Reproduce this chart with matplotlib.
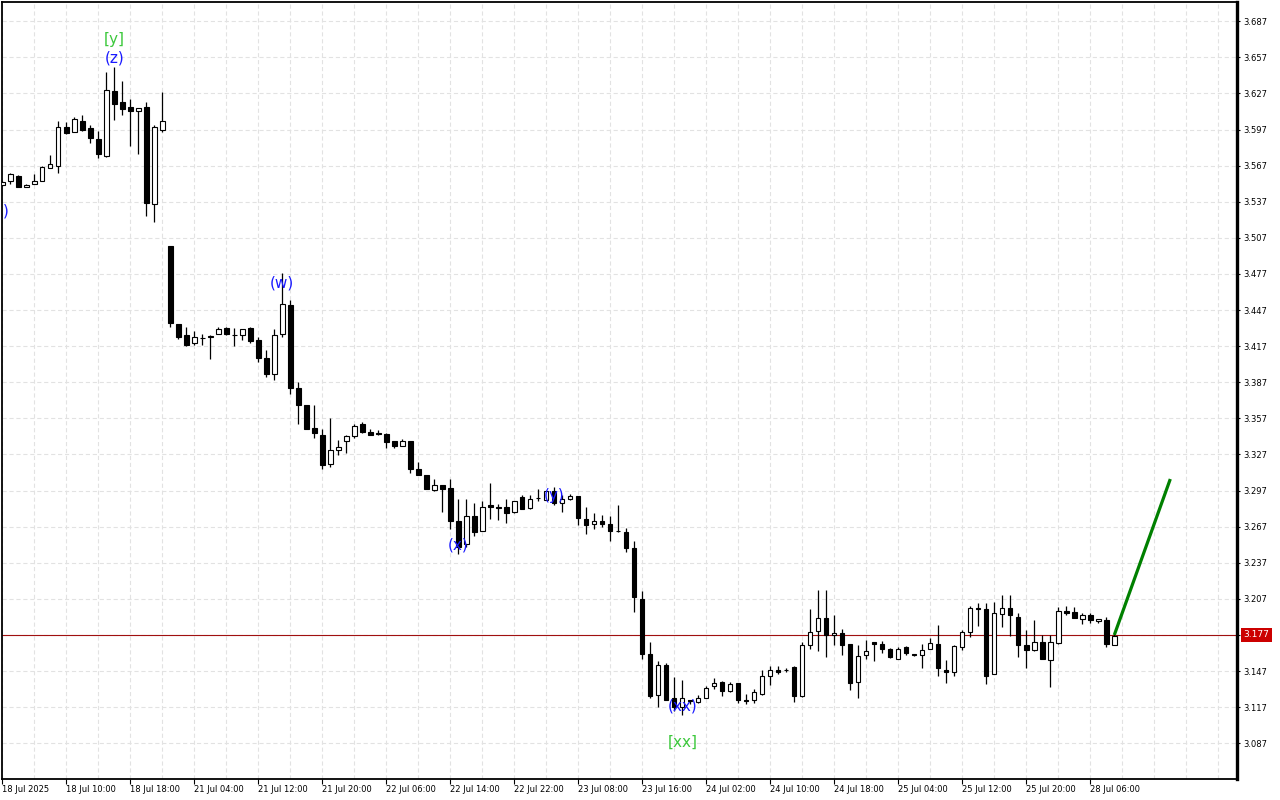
import matplotlib
matplotlib.use("Agg")
import matplotlib.pyplot as plt
import numpy as np

plt.rcParams['lines.scale_dashes'] = False
plt.rcParams['font.family'] = ['DejaVu Sans']

# ---- data (hourly OHLC) ----
opens = [3.551, 3.554, 3.558, 3.549, 3.552, 3.554, 3.565, 3.567, 3.599, 3.595,
         3.604, 3.598, 3.589, 3.575, 3.629, 3.620, 3.616, 3.612, 3.616, 3.535,
         3.597, 3.500, 3.435, 3.426, 3.420, 3.4235, 3.425, 3.427, 3.432, 3.4265,
         3.426, 3.432, 3.422, 3.407, 3.3935, 3.427, 3.451, 3.382, 3.3685, 3.3487,
         3.3435, 3.319, 3.331, 3.338, 3.342, 3.352, 3.346, 3.3447, 3.344, 3.338,
         3.334, 3.338, 3.315, 3.310, 3.2975, 3.302, 3.2995, 3.272, 3.2525, 3.2755,
         3.2635, 3.2848, 3.2837, 3.283, 3.279, 3.292, 3.2826, 3.2905, 3.2895, 3.2967,
         3.2864, 3.2903, 3.2928, 3.2737, 3.269, 3.272, 3.2695, 3.2636, 3.2628, 3.2492,
         3.2073, 3.1614, 3.127, 3.1517, 3.1248, 3.1175, 3.1231, 3.1212, 3.1248, 3.1348,
         3.1376, 3.1303, 3.1367, 3.1234, 3.1231, 3.1281, 3.1428, 3.1481, 3.1479, 3.1503,
         3.1264, 3.1689, 3.1806, 3.1914, 3.1767, 3.1789, 3.1698, 3.1381, 3.1606, 3.1712,
         3.1698, 3.1651, 3.1573, 3.1667, 3.1614, 3.1606, 3.1651, 3.1692, 3.1481, 3.1459,
         3.1673, 3.1795, 3.1992, 3.1987, 3.1445, 3.1945, 3.1995, 3.1923, 3.1687, 3.1645,
         3.1714, 3.1562, 3.1706, 3.1973, 3.1964, 3.1903, 3.1939, 3.1887, 3.1895, 3.1687]
highs = [3.554, 3.561, 3.559, 3.552, 3.560, 3.567, 3.576, 3.604, 3.603, 3.607,
         3.609, 3.601, 3.596, 3.645, 3.649, 3.637, 3.622, 3.6145, 3.620, 3.601,
         3.628, 3.500, 3.435, 3.433, 3.430, 3.427, 3.4265, 3.433, 3.4325, 3.432,
         3.431, 3.433, 3.425, 3.414, 3.431, 3.478, 3.455, 3.387, 3.3685, 3.368,
         3.348, 3.357, 3.339, 3.343, 3.352, 3.354, 3.348, 3.347, 3.345, 3.338,
         3.3395, 3.338, 3.321, 3.310, 3.307, 3.302, 3.307, 3.290, 3.290, 3.287,
         3.2885, 3.303, 3.2857, 3.290, 3.288, 3.293, 3.293, 3.2987, 3.297, 3.300,
         3.293, 3.2945, 3.2928, 3.2837, 3.278, 3.2767, 3.2756, 3.2848, 3.2659, 3.2551,
         3.2134, 3.1714, 3.1556, 3.154, 3.142, 3.140, 3.1231, 3.1273, 3.1348, 3.1414,
         3.1384, 3.1378, 3.1367, 3.1276, 3.132, 3.1476, 3.1509, 3.1509, 3.1498, 3.1509,
         3.1712, 3.1989, 3.2148, 3.2142, 3.1939, 3.1823, 3.1698, 3.169, 3.1726, 3.1712,
         3.1717, 3.1659, 3.1667, 3.1678, 3.1614, 3.1692, 3.1748, 3.1851, 3.1564, 3.169,
         3.1814, 3.2014, 3.2037, 3.2037, 3.2042, 3.2106, 3.2106, 3.1953, 3.1814, 3.1898,
         3.177, 3.1773, 3.2006, 3.2014, 3.2006, 3.1951, 3.1951, 3.1903, 3.1917, 3.1775]
lows = [3.550, 3.552, 3.549, 3.549, 3.552, 3.554, 3.565, 3.561, 3.593, 3.595,
        3.596, 3.586, 3.573, 3.574, 3.605, 3.609, 3.583, 3.577, 3.525, 3.520,
        3.595, 3.433, 3.423, 3.417, 3.418, 3.418, 3.406, 3.427, 3.4265, 3.417,
        3.422, 3.420, 3.4035, 3.391, 3.3885, 3.425, 3.3775, 3.3525, 3.3485, 3.341,
        3.315, 3.3165, 3.3265, 3.3285, 3.341, 3.345, 3.343, 3.343, 3.3325, 3.3325,
        3.334, 3.3115, 3.310, 3.2985, 3.2965, 3.279, 3.265, 3.2445, 3.250, 3.259,
        3.2635, 3.2735, 3.2728, 3.270, 3.2785, 3.2817, 3.2817, 3.2884, 3.289, 3.2853,
        3.2795, 3.2895, 3.2684, 3.261, 3.2653, 3.2667, 3.255, 3.2623, 3.246, 3.1965,
        3.157, 3.125, 3.117, 3.1226, 3.1142, 3.1106, 3.1198, 3.1206, 3.1248, 3.132,
        3.1262, 3.1295, 3.1203, 3.1195, 3.1206, 3.1273, 3.1351, 3.1448, 3.1462, 3.1211,
        3.1253, 3.1653, 3.1639, 3.1587, 3.1689, 3.1606, 3.1312, 3.1248, 3.157, 3.1553,
        3.162, 3.1578, 3.1573, 3.1606, 3.1598, 3.1495, 3.1651, 3.1431, 3.137, 3.1428,
        3.1645, 3.175, 3.1842, 3.1362, 3.1445, 3.1834, 3.1762, 3.1584, 3.1495, 3.1634,
        3.157, 3.1342, 3.1698, 3.1937, 3.1912, 3.1862, 3.187, 3.1867, 3.1667, 3.1687]
closes = [3.553, 3.560, 3.549, 3.551, 3.554, 3.566, 3.568, 3.5995, 3.594, 3.6056,
          3.597, 3.590, 3.577, 3.6295, 3.618, 3.614, 3.612, 3.6145, 3.536, 3.599,
          3.604, 3.436, 3.425, 3.418, 3.425, 3.4237, 3.4255, 3.431, 3.427, 3.426,
          3.431, 3.421, 3.407, 3.3935, 3.426, 3.452, 3.382, 3.368, 3.3485, 3.3445,
          3.3185, 3.331, 3.3335, 3.342, 3.351, 3.346, 3.3435, 3.3443, 3.337, 3.334,
          3.338, 3.315, 3.310, 3.2985, 3.302, 3.2985, 3.2715, 3.250, 3.2755, 3.2625,
          3.2835, 3.2835, 3.2827, 3.2785, 3.288, 3.2817, 3.2903, 3.2907, 3.297, 3.2867,
          3.2903, 3.2923, 3.2745, 3.2687, 3.272, 3.2692, 3.2634, 3.2632, 3.2492, 3.2087,
          3.1612, 3.1267, 3.1523, 3.1226, 3.117, 3.1245, 3.122, 3.1248, 3.1331, 3.1373,
          3.1303, 3.1364, 3.1226, 3.122, 3.1298, 3.1431, 3.1481, 3.1462, 3.1477, 3.1264,
          3.1689, 3.1795, 3.1914, 3.177, 3.1789, 3.1689, 3.137, 3.1598, 3.164, 3.1698,
          3.1653, 3.1587, 3.1656, 3.1623, 3.1606, 3.1648, 3.1706, 3.1495, 3.1464, 3.1676,
          3.1798, 3.1995, 3.1984, 3.1426, 3.1953, 3.1995, 3.1934, 3.1684, 3.1645, 3.1714,
          3.157, 3.1714, 3.197, 3.195, 3.1912, 3.1939, 3.1892, 3.1903, 3.1695, 3.1762]

time_labels = ["18 Jul 2025", "18 Jul 10:00", "18 Jul 18:00", "21 Jul 04:00",
               "21 Jul 12:00", "21 Jul 20:00", "22 Jul 06:00", "22 Jul 14:00",
               "22 Jul 22:00", "23 Jul 08:00", "23 Jul 16:00", "24 Jul 02:00",
               "24 Jul 10:00", "24 Jul 18:00", "25 Jul 04:00", "25 Jul 12:00",
               "25 Jul 20:00", "28 Jul 06:00"]
price_ticks = [3.087, 3.117, 3.147, 3.177, 3.207, 3.237, 3.267, 3.297, 3.327,
               3.357, 3.387, 3.417, 3.447, 3.477, 3.507, 3.537, 3.567, 3.597,
               3.627, 3.657, 3.687]
current_price = 3.177

# projection line (bar index, price)
proj_x = [139, 146]
proj_y = [3.177, 3.3066]

# wave labels: (text, bar, price, color)
wave_labels = [
    ("[y]", 14, 3.6722, "#3cc83c"),
    ("(z)", 14, 3.6562, "#1a1aff"),
    (")", 0.45, 3.5293, "#1a1aff"),
    ("(w)", 35, 3.4695, "#1a1aff"),
    ("(x)", 57, 3.2518, "#1a1aff"),
    ("(y)", 69, 3.2933, "#1a1aff"),
    ("(xx)", 85, 3.1180, "#1a1aff"),
    ("[xx]", 85, 3.0880, "#3cc83c"),
]

# ---- figure ----
W, H = 1280, 800
fig = plt.figure(figsize=(W / 100, H / 100), dpi=100)
left_px, right_px, top_px, bot_px = 2.3, 1237.3, 2.3, 779.3
ax = fig.add_axes([left_px / W, 1 - bot_px / H, (right_px - left_px) / W, (bot_px - top_px) / H])

n = len(opens)
x = np.arange(n)
o = np.array(opens); h = np.array(highs); l = np.array(lows); c = np.array(closes)

ax.set_xlim(0, (right_px - left_px) / 8.0)
ax.set_ylim(3.0571, 3.7027)

# grid
ax.set_axisbelow(True)
label_pos = np.arange(len(time_labels)) * 8
ax.set_xticks(label_pos)
ax.set_xticklabels(time_labels, ha='left', fontsize=6)
ax.set_xticks(np.arange(0, 156, 4), minor=True)
ax.tick_params(axis='x', which='minor', length=0)
ax.tick_params(axis='x', which='major', direction='out', length=3.5, width=0.8, pad=0.5)
gkw = dict(color='#e2e2e2', linestyle=(0, (3, 2)), linewidth=0.8)
ax.grid(True, which='both', axis='x', **gkw)
ax.set_yticks(price_ticks)
ax.yaxis.tick_right()
ax.set_yticklabels([("" if abs(t - current_price) < 1e-9 else f"{t:.3f}") for t in price_ticks], fontsize=6)
ax.tick_params(axis='y', direction='out', length=2.5, width=0.8, pad=1.5)
ax.grid(True, which='major', axis='y', **gkw)

for s in ['left', 'top', 'bottom']:
    ax.spines[s].set_linewidth(1.3)
ax.spines['right'].set_linewidth(2.4)

# current price line
ax.axhline(current_price, color='#a01010', linewidth=0.8, zorder=2)

# candles
ax.vlines(x, l, h, color='black', linewidth=0.9, zorder=3)
bull = c >= o
body_bottom = np.minimum(o, c)
body_h = np.maximum(np.abs(c - o), 0.0002)
ax.bar(x, body_h, bottom=body_bottom, width=0.55,
       color=np.where(bull, 'white', 'black'), edgecolor='black', linewidth=0.8, zorder=4)

# projection
ax.plot(proj_x, proj_y, color='#008000', linewidth=2.3, zorder=5, solid_capstyle='butt')

# wave labels
for txt, bx, py, col in wave_labels:
    ax.text(bx, py, txt, color=col, ha='center', va='center', fontsize=11,
            zorder=6, clip_on=True)

# current price tag
ax.annotate(f"{current_price:.3f}", xy=(1.0, current_price),
            xycoords=('axes fraction', 'data'), xytext=(4.5, 0),
            textcoords='offset points', ha='left', va='center', fontsize=6.5,
            color='white', annotation_clip=False,
            bbox=dict(boxstyle='square,pad=0.3', facecolor='#cc0000', edgecolor='none'))

fig.savefig("out.png", dpi=100)
